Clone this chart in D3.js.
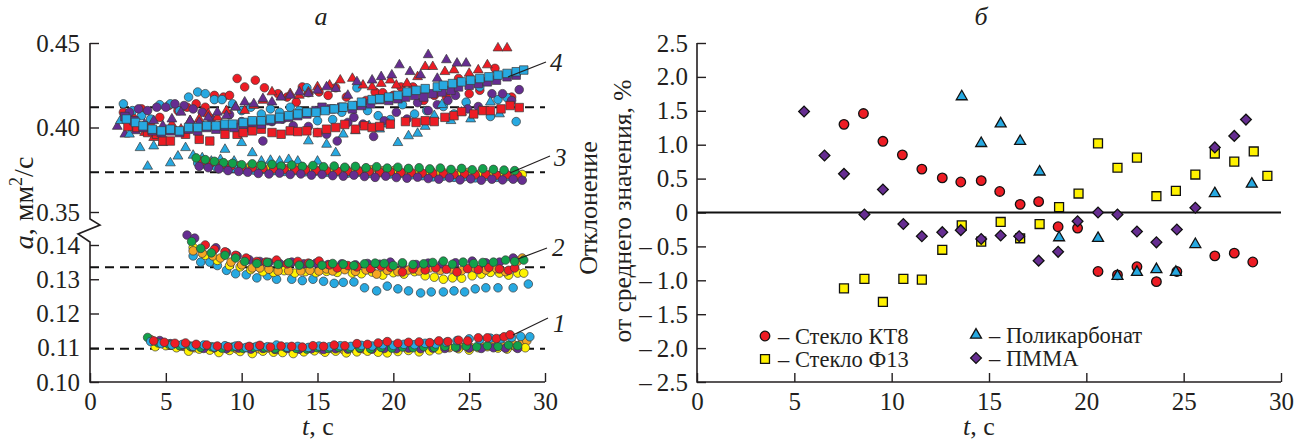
<!DOCTYPE html>
<html>
<head>
<meta charset="utf-8">
<script src="https://cdn.jsdelivr.net/npm/d3@7"></script>
<style>
  body { margin: 0; background: #fff; }
  text { font-family: "Liberation Serif", "Times New Roman", serif; fill: #231f20; }
</style>
</head>
<body>
<svg id="chart" width="1308" height="441"></svg>
<script>
// ---------- panel a : [t, a] ----------
// curve 4 (upper band)
const g4RedCirc = [[2.2,0.409],[2.8,0.406],[3.4,0.411],[4.0,0.403],[4.6,0.406],[5.2,0.413],[5.8,0.410],[6.4,0.412],[7.0,0.414],[7.6,0.412],[8.2,0.419],[8.8,0.418],[9.2,0.419],[9.7,0.429],[10.2,0.424],[10.9,0.428],[11.5,0.4235],[12.4,0.420],[13.0,0.418],[13.6,0.415],[14.0,0.424],[14.4,0.4206],[15.1,0.421],[15.7,0.419],[16.2,0.4235],[16.9,0.418],[17.5,0.413],[18.2,0.416],[18.8,0.421],[19.3,0.4206],[20.0,0.419],[20.5,0.424],[21.3,0.424],[22.0,0.416],[22.7,0.419],[23.5,0.418],[24.3,0.429],[25.0,0.420],[25.7,0.422],[26.7,0.435],[27.8,0.418]];
const g4BlueCirc = [[2.2,0.414],[2.8,0.410],[3.4,0.407],[4.0,0.405],[4.6,0.4135],[5.3,0.414],[5.9,0.410],[6.5,0.418],[7.1,0.421],[7.6,0.420],[8.2,0.4165],[8.7,0.4165],[9.4,0.414],[10.0,0.410],[10.6,0.412],[11.3,0.408],[11.9,0.411],[12.5,0.409],[13.2,0.412],[13.8,0.410],[14.3,0.4235],[15.0,0.404],[16.0,0.4047],[16.6,0.409],[17.6,0.4235],[18.3,0.410],[19.0,0.407],[19.8,0.4047],[20.6,0.4135],[21.4,0.408],[22.2,0.410],[23.3,0.4124],[24.0,0.408],[24.8,0.415],[25.7,0.424],[26.4,0.4065],[26.9,0.4165],[27.5,0.4176],[28.1,0.4035]];
const g4PurpleCirc = [[2.6,0.409],[3.2,0.411],[3.8,0.410],[4.4,0.412],[5.0,0.412],[5.6,0.414],[6.2,0.413],[6.8,0.411],[7.4,0.409],[8.0,0.405],[8.6,0.401],[9.2,0.4076],[10.0,0.4035],[10.6,0.399],[11.4,0.392],[12.0,0.4035],[12.7,0.405],[13.4,0.401],[14.4,0.4006],[15.0,0.397],[15.6,0.396],[16.3,0.392],[17.0,0.403],[17.4,0.406],[18.0,0.402],[18.7,0.3947],[19.4,0.404],[20.2,0.409],[20.9,0.405],[21.6,0.4147],[22.3,0.410],[22.9,0.4135],[23.6,0.416],[24.1,0.419],[24.9,0.411],[25.6,0.4124],[26.5,0.420],[27.2,0.420],[27.8,0.416],[28.3,0.4224]];
const g4RedTri = [[3.0,0.400],[3.6,0.397],[4.2,0.394],[4.8,0.398],[5.4,0.402],[6.0,0.399],[6.6,0.404],[7.2,0.405],[7.8,0.408],[8.4,0.406],[9.0,0.410],[9.6,0.412],[10.2,0.410],[10.8,0.413],[11.4,0.416],[12.0,0.421],[12.6,0.418],[13.2,0.420],[13.8,0.419],[14.4,0.421],[15.0,0.424],[15.8,0.425],[16.5,0.428],[17.3,0.429],[18.0,0.425],[18.6,0.424],[19.2,0.426],[19.8,0.428],[20.2,0.425],[20.9,0.426],[21.6,0.430],[22.1,0.436],[22.6,0.436],[23.4,0.433],[24.0,0.434],[25.0,0.432],[25.6,0.434],[26.2,0.437],[26.9,0.447],[27.5,0.447]];
const g4PurpleTri = [[1.8,0.4006],[2.3,0.396],[3.0,0.398],[3.6,0.402],[4.2,0.404],[4.8,0.401],[5.4,0.405],[6.0,0.409],[6.6,0.404],[7.2,0.403],[7.8,0.406],[8.4,0.409],[9.0,0.407],[9.6,0.412],[10.2,0.415],[10.8,0.414],[11.4,0.417],[12.0,0.415],[12.6,0.418],[13.2,0.419],[13.8,0.421],[14.4,0.420],[15.0,0.422],[15.6,0.424],[16.2,0.423],[17.0,0.419],[17.6,0.427],[18.6,0.428],[19.2,0.430],[19.9,0.431],[20.4,0.437],[21.1,0.433],[21.8,0.431],[22.3,0.443],[22.9,0.429],[23.5,0.440],[24.2,0.438],[24.8,0.438]];
const g4BlueTri = [[2.0,0.404],[2.6,0.396],[3.3,0.388],[3.8,0.377],[4.2,0.389],[4.8,0.391],[5.3,0.379],[5.8,0.383],[6.3,0.388],[6.8,0.3835],[7.4,0.382],[8.0,0.380],[8.6,0.381],[8.9,0.387],[9.5,0.380],[10.0,0.391],[10.7,0.385],[11.3,0.380],[11.9,0.3805],[12.5,0.380],[13.1,0.381],[13.7,0.380],[14.4,0.392],[15.0,0.380],[15.6,0.390],[16.2,0.385],[16.7,0.396],[17.5,0.398],[18.4,0.401],[19.1,0.399],[19.7,0.402],[20.3,0.391],[21.0,0.395],[21.6,0.3965],[22.1,0.4006],[22.7,0.407],[23.2,0.4135],[23.8,0.404],[24.5,0.409],[25.1,0.405],[25.7,0.410],[26.4,0.415],[27.0,0.408]];
const g4RedSq = [[2.5,0.4006],[3.1,0.400],[3.8,0.397],[4.4,0.396],[4.8,0.392],[5.3,0.392],[6.3,0.396],[7.2,0.393],[7.9,0.392],[8.9,0.396],[9.7,0.396],[10.1,0.397],[10.7,0.398],[11.3,0.399],[12.0,0.397],[12.6,0.396],[13.2,0.398],[13.7,0.3976],[14.3,0.398],[15.0,0.397],[15.6,0.399],[16.2,0.400],[16.8,0.4018],[17.5,0.399],[18.1,0.401],[18.6,0.400],[19.1,0.4006],[19.8,0.402],[20.8,0.4035],[21.5,0.403],[22.1,0.404],[22.7,0.4035],[23.4,0.406],[24.0,0.407],[24.5,0.4094],[25.3,0.408],[25.9,0.410],[26.4,0.410],[27.1,0.411],[27.7,0.413],[28.3,0.4118]];
const g4PurpleSq = [[2.3,0.4065],[2.9,0.404],[3.5,0.400],[4.1,0.398],[4.7,0.397],[5.3,0.398],[5.9,0.397],[6.5,0.399],[7.1,0.398],[7.7,0.400],[8.3,0.399],[8.9,0.401],[9.5,0.400],[10.1,0.402],[10.7,0.403],[11.3,0.402],[11.9,0.404],[12.5,0.405],[13.1,0.406],[13.7,0.407],[14.3,0.408],[14.9,0.410],[15.3,0.412],[15.9,0.411],[16.6,0.412],[17.3,0.411],[17.9,0.413],[18.5,0.414],[19.1,0.4165],[19.7,0.416],[20.3,0.417],[20.8,0.418],[21.4,0.419],[22.0,0.418],[22.6,0.420],[23.2,0.421],[23.8,0.422],[24.3,0.424],[25.0,0.425],[25.6,0.426],[26.2,0.427],[26.8,0.428],[27.5,0.430],[28.1,0.431]];
const g4BlueSq = [[2.4,0.405],[3.0,0.403],[3.5,0.401],[4.1,0.399],[4.7,0.398],[5.3,0.399],[5.9,0.398],[6.5,0.400],[7.1,0.400],[7.7,0.401],[8.3,0.401],[8.9,0.402],[9.4,0.402],[10.1,0.403],[10.7,0.404],[11.3,0.404],[11.9,0.405],[12.5,0.406],[13.1,0.407],[13.7,0.408],[14.3,0.409],[14.9,0.409],[15.5,0.410],[16.1,0.411],[16.7,0.412],[17.3,0.413],[17.9,0.415],[18.6,0.4165],[19.1,0.417],[19.7,0.418],[20.3,0.419],[20.9,0.421],[21.5,0.422],[22.1,0.423],[22.9,0.424],[23.3,0.425],[23.9,0.426],[24.5,0.427],[25.1,0.428],[25.7,0.429],[26.3,0.430],[26.9,0.431],[27.5,0.432],[28.1,0.433],[28.6,0.434]];

// curve 3
const g3Orange = [[7.5,0.3795],[8.3,0.3785],[9.0,0.3775],[9.8,0.3770],[10.5,0.3766],[11.3,0.3760],[12.1,0.3764],[12.9,0.3756],[13.7,0.3760],[14.5,0.3752],[15.3,0.3756],[16.1,0.3748],[16.9,0.3752],[17.7,0.3745],[18.5,0.3750],[19.3,0.3744],[20.1,0.3748],[20.9,0.3740],[21.7,0.3736],[22.5,0.3742],[23.3,0.3733],[24.1,0.3728],[24.9,0.3734],[25.7,0.3726],[26.5,0.3730],[27.3,0.3722],[28.1,0.3726]];
const g3Yellow = [[7.3,0.3805],[7.9,0.3795],[8.6,0.3785],[9.2,0.3778],[9.9,0.3775],[10.6,0.3768],[11.2,0.3772],[11.9,0.3764],[12.6,0.3768],[13.3,0.3760],[14.0,0.3765],[14.7,0.3758],[15.4,0.3762],[16.1,0.3755],[16.8,0.3760],[17.5,0.3752],[18.2,0.3758],[18.9,0.3760],[19.6,0.3755],[20.3,0.3748],[21.0,0.3752],[21.7,0.3745],[22.4,0.3740],[23.1,0.3735],[23.8,0.3738],[24.5,0.3730],[25.2,0.3735],[25.9,0.3728],[26.6,0.3732],[27.3,0.3725],[28.0,0.3730],[28.5,0.3722]];
const g3Blue = [[7.1,0.3790],[7.7,0.3775],[8.3,0.3768],[8.9,0.3762],[9.5,0.3758],[10.1,0.3752],[10.8,0.3748],[11.4,0.3752],[12.1,0.3745],[12.8,0.3740],[13.5,0.3745],[14.2,0.3738],[14.9,0.3742],[15.6,0.3735],[16.3,0.3738],[17.0,0.3730],[17.7,0.3735],[18.4,0.3728],[19.1,0.3732],[19.8,0.3725],[20.5,0.3728],[21.2,0.3720],[21.9,0.3715],[22.6,0.3708],[23.3,0.3712],[24.0,0.3705],[24.7,0.3710],[25.4,0.3702],[26.1,0.3712],[26.8,0.3705],[27.5,0.3710],[28.2,0.3708]];
const g3Purple = [[7.2,0.3770],[7.8,0.3762],[8.5,0.3755],[9.1,0.3745],[9.8,0.3740],[10.4,0.3735],[11.1,0.3728],[11.8,0.3725],[12.5,0.3730],[13.2,0.3722],[13.9,0.3725],[14.6,0.3718],[15.3,0.3722],[16.0,0.3715],[16.7,0.3712],[17.4,0.3718],[18.1,0.3710],[18.8,0.3705],[19.5,0.3712],[20.2,0.3704],[20.9,0.3700],[21.6,0.3706],[22.3,0.3698],[23.0,0.3694],[23.7,0.3702],[24.4,0.3690],[25.1,0.3696],[25.8,0.3688],[26.5,0.3694],[27.2,0.3690],[27.9,0.3694],[28.5,0.3688]];
const g3Red = [[7.4,0.3800],[8.0,0.3790],[8.7,0.3780],[9.3,0.3772],[10.0,0.3765],[10.7,0.3762],[11.4,0.3758],[12.1,0.3755],[12.8,0.3752],[13.5,0.3750],[14.2,0.3748],[14.9,0.3746],[15.6,0.3744],[16.3,0.3742],[17.0,0.3740],[17.7,0.3742],[18.4,0.3738],[19.1,0.3736],[19.8,0.3738],[20.5,0.3734],[21.2,0.3732],[21.9,0.3730],[22.6,0.3728],[23.3,0.3726],[24.0,0.3722],[24.7,0.3725],[25.4,0.3720],[26.1,0.3722],[26.8,0.3718],[27.5,0.3720],[28.2,0.3716]];
const g3Green = [[7.0,0.3820],[7.6,0.3810],[8.2,0.3800],[8.8,0.3792],[9.4,0.3788],[10.0,0.3780],[10.7,0.3785],[11.3,0.3776],[12.0,0.3782],[12.6,0.3772],[13.3,0.3778],[14.0,0.3770],[14.7,0.3775],[15.4,0.3768],[16.1,0.3772],[16.8,0.3765],[17.5,0.3770],[18.2,0.3762],[18.9,0.3768],[19.6,0.3760],[20.3,0.3765],[21.0,0.3758],[21.7,0.3762],[22.4,0.3755],[23.1,0.3760],[23.8,0.3752],[24.5,0.3758],[25.2,0.3750],[25.9,0.3756],[26.6,0.3752],[27.3,0.3748],[28.0,0.3745]];

// curve 2
const g2Blue = [[6.8,0.1368],[7.3,0.1350],[7.9,0.1350],[8.4,0.1340],[9.0,0.1326],[9.6,0.1316],[10.3,0.1313],[11.0,0.1304],[11.7,0.1310],[12.3,0.1300],[13.3,0.1300],[14.0,0.1296],[14.7,0.1300],[15.4,0.1294],[16.1,0.1288],[16.7,0.1291],[17.4,0.1292],[18.1,0.1275],[18.9,0.1266],[19.6,0.1280],[20.3,0.1272],[21.0,0.1266],[21.8,0.1260],[22.5,0.1263],[23.3,0.1263],[24.0,0.1266],[24.7,0.1263],[25.4,0.1272],[26.1,0.1275],[26.9,0.1275],[27.9,0.1275],[28.9,0.1286]];
const g2Yellow = [[6.8,0.1393],[7.6,0.1370],[8.4,0.1355],[9.2,0.1340],[9.9,0.1336],[10.6,0.1328],[11.4,0.1322],[12.1,0.1320],[12.8,0.1325],[13.5,0.1318],[14.2,0.1322],[14.9,0.1319],[15.6,0.1323],[16.3,0.1320],[17.3,0.1318],[17.9,0.1316],[18.6,0.1321],[19.3,0.1312],[20.0,0.1319],[20.7,0.1315],[21.4,0.1322],[22.1,0.1310],[22.7,0.1306],[23.3,0.1300],[23.9,0.1304],[24.5,0.1303],[25.2,0.1310],[25.8,0.1315],[26.4,0.1320],[27.0,0.1318],[27.6,0.1312],[28.2,0.1318],[28.6,0.1318]];
const g2Orange = [[6.8,0.1383],[7.4,0.1376],[8.1,0.1368],[8.6,0.1362],[9.3,0.1350],[10.0,0.1342],[10.7,0.1333],[11.2,0.1333],[11.8,0.1329],[12.4,0.1324],[13.1,0.1325],[13.9,0.1324],[14.5,0.1326],[15.1,0.1324],[15.6,0.1330],[16.0,0.1324],[16.8,0.1328],[17.5,0.1323],[18.2,0.1327],[18.9,0.1315],[19.6,0.1326],[20.3,0.1322],[21.0,0.1327],[21.7,0.1324],[22.4,0.1333],[23.1,0.1326],[23.8,0.1330],[24.5,0.1325],[25.4,0.1333],[26.1,0.1327],[26.8,0.1331],[27.4,0.1322],[28.2,0.1353],[28.5,0.1362]];
const g2Purple = [[6.4,0.1429],[6.9,0.1420],[8.3,0.1392],[9.0,0.1378],[9.7,0.1368],[10.5,0.1357],[11.2,0.1352],[11.8,0.1349],[12.5,0.1346],[13.3,0.1350],[14.1,0.1345],[14.9,0.1347],[15.7,0.1343],[16.6,0.1345],[17.5,0.1342],[18.3,0.1346],[19.1,0.1344],[19.8,0.1350],[20.6,0.1345],[21.5,0.1343],[22.3,0.1347],[23.2,0.1345],[24.1,0.1348],[25.2,0.1353],[26.1,0.1348],[27.0,0.1350],[27.9,0.1362]];
const g2Red = [[7.6,0.1400],[8.2,0.1387],[8.9,0.1380],[9.6,0.1370],[10.3,0.1362],[11.0,0.1352],[11.6,0.1350],[12.3,0.1356],[13.0,0.1345],[13.7,0.1352],[14.4,0.1347],[15.1,0.1353],[15.8,0.1342],[16.3,0.1333],[17.0,0.1340],[17.6,0.1336],[18.5,0.1331],[19.2,0.1338],[19.8,0.1335],[20.6,0.1321],[21.3,0.1330],[22.1,0.1327],[22.8,0.1333],[23.5,0.1329],[24.2,0.1321],[24.9,0.1331],[25.6,0.1328],[26.3,0.1334],[27.0,0.1330],[27.6,0.1326],[28.0,0.1333]];
const g2Green = [[6.7,0.1410],[7.3,0.1390],[8.0,0.1377],[8.9,0.1370],[9.6,0.1362],[10.2,0.1352],[11.0,0.1346],[11.7,0.1349],[12.4,0.1343],[13.1,0.1348],[13.8,0.1341],[14.5,0.1345],[15.3,0.1341],[16.0,0.1346],[16.7,0.1344],[17.4,0.1340],[18.1,0.1345],[18.8,0.1347],[19.4,0.1346],[20.0,0.1340],[20.6,0.1348],[21.3,0.1343],[22.0,0.1345],[22.6,0.1349],[23.3,0.1353],[23.9,0.1344],[24.6,0.1350],[25.3,0.1346],[25.9,0.1349],[26.6,0.1350],[27.4,0.1356],[28.0,0.1352],[28.6,0.1356]];

// curve 1
const g1Purple = [[4.6,0.1121],[5.3,0.1112],[6.0,0.1105],[6.7,0.1102],[7.5,0.1098],[8.2,0.1100],[9.0,0.1097],[9.8,0.1099],[10.6,0.1096],[11.4,0.1098],[12.2,0.1095],[13.0,0.1098],[13.8,0.1096],[14.6,0.1097],[15.4,0.1095],[16.2,0.1097],[17.0,0.1096],[17.8,0.1098],[18.6,0.1096],[19.4,0.1098],[20.2,0.1097],[21.0,0.1099],[21.8,0.1097],[22.6,0.1099],[23.4,0.1098],[24.2,0.1100],[25.0,0.1099],[25.8,0.1098],[26.6,0.1100],[27.4,0.1099],[28.2,0.1098]];
const g1Blue = [[4.0,0.1118],[4.7,0.1112],[5.4,0.1108],[6.1,0.1110],[6.8,0.1104],[7.5,0.1108],[8.2,0.1102],[8.9,0.1106],[9.6,0.1105],[10.3,0.1101],[11.0,0.1104],[11.7,0.1103],[12.3,0.1108],[13.0,0.1102],[13.7,0.1104],[14.4,0.1101],[15.1,0.1105],[15.8,0.1103],[16.5,0.1106],[17.2,0.1104],[17.9,0.1107],[18.6,0.1105],[19.3,0.1109],[20.0,0.1107],[20.7,0.1110],[21.4,0.1109],[22.1,0.1113],[22.8,0.1111],[23.5,0.1116],[24.2,0.1121],[25.0,0.1126],[25.7,0.1124],[26.4,0.1128],[27.1,0.1126],[27.8,0.1130],[28.4,0.1133],[29.0,0.1132]];
const g1Green = [[3.8,0.1130],[4.5,0.1114],[5.2,0.1110],[5.9,0.1106],[6.6,0.1105],[7.3,0.1101],[8.0,0.1103],[8.7,0.1099],[9.4,0.1102],[10.1,0.1098],[10.8,0.1101],[11.5,0.1100],[12.2,0.1097],[12.9,0.1101],[13.6,0.1098],[14.3,0.1096],[15.0,0.1100],[15.7,0.1098],[16.4,0.1101],[17.1,0.1099],[17.8,0.1100],[18.5,0.1097],[19.2,0.1101],[19.9,0.1099],[20.6,0.1102],[21.3,0.1100],[22.0,0.1103],[22.7,0.1101],[23.4,0.1104],[24.1,0.1102],[24.8,0.1105],[25.5,0.1103],[26.2,0.1106],[26.9,0.1104],[27.6,0.1108],[28.2,0.1106]];
const g1Red = [[4.2,0.1120],[4.9,0.1116],[5.6,0.1113],[6.3,0.1114],[7.0,0.1110],[7.7,0.1108],[8.4,0.1105],[9.1,0.1103],[9.8,0.1106],[10.5,0.1104],[11.2,0.1107],[11.9,0.1102],[12.6,0.1105],[13.3,0.1104],[14.0,0.1102],[14.7,0.1106],[15.4,0.1104],[16.1,0.1108],[16.8,0.1106],[17.6,0.1112],[18.3,0.1110],[19.0,0.1114],[19.6,0.1118],[20.3,0.1113],[21.0,0.1116],[21.7,0.1117],[22.4,0.1115],[23.0,0.1120],[23.6,0.1118],[24.3,0.1122],[24.9,0.1120],[25.6,0.1129],[26.2,0.1129],[26.8,0.1127],[27.3,0.1132],[27.7,0.1138]];
const g1Orange = [[4.0,0.1124],[4.8,0.1112],[5.5,0.1109],[6.2,0.1104],[6.9,0.1100],[7.6,0.1102],[8.3,0.1098],[9.0,0.1099],[9.7,0.1096],[10.4,0.1100],[11.1,0.1097],[11.8,0.1099],[12.5,0.1095],[13.2,0.1098],[13.9,0.1096],[14.6,0.1099],[15.3,0.1094],[16.0,0.1097],[16.7,0.1095],[17.4,0.1098],[18.1,0.1096],[18.8,0.1099],[19.5,0.1097],[20.2,0.1100],[20.9,0.1098],[21.6,0.1101],[22.3,0.1099],[23.0,0.1102],[23.7,0.1100],[24.4,0.1103],[25.1,0.1101],[25.8,0.1104],[26.5,0.1106],[27.2,0.1104],[27.9,0.1110],[28.5,0.1116],[28.8,0.1120]];
const g1Yellow = [[4.3,0.1103],[5.0,0.1106],[5.7,0.1100],[6.5,0.1090],[7.2,0.1096],[7.9,0.1093],[8.5,0.1086],[9.2,0.1092],[9.9,0.1089],[10.7,0.1083],[11.4,0.1090],[12.1,0.1087],[12.7,0.1086],[13.4,0.1083],[14.1,0.1088],[14.8,0.1091],[15.5,0.1087],[16.2,0.1090],[16.9,0.1085],[17.6,0.1088],[18.3,0.1090],[19.0,0.1087],[19.6,0.1085],[20.3,0.1089],[21.0,0.1092],[21.7,0.1088],[22.4,0.1091],[23.0,0.1094],[23.6,0.1103],[24.3,0.1097],[25.0,0.1093],[25.6,0.1100],[26.2,0.1103],[26.9,0.1099],[27.5,0.1096],[28.1,0.1101],[28.7,0.1100]];

// mean values (dashed lines) and curve labels
const meanUpper = [0.412, 0.3735];
const meanLower = [0.1335, 0.1097];
const curveLabels = ["1", "2", "3", "4"];

// ---------- panel б : deviation, % ----------
const tKT8 = [7.55,8.55,9.55,10.55,11.55,12.6,13.55,14.6,15.55,16.6,17.55,18.55,19.55,20.6,21.6,22.6,23.6,24.65,26.6,27.6,28.55];
const devKT8 = [1.30,1.46,1.05,0.85,0.64,0.51,0.45,0.47,0.31,0.12,0.16,-0.21,-0.23,-0.87,-0.92,-0.80,-1.02,-0.87,-0.64,-0.60,-0.73];
const tF13 = [7.55,8.6,9.55,10.6,11.55,12.6,13.6,14.6,15.6,16.6,17.6,18.6,19.6,20.6,21.6,22.6,23.6,24.6,25.6,26.6,27.6,28.6,29.3];
const devF13 = [-1.12,-0.98,-1.32,-0.98,-0.99,-0.55,-0.19,-0.43,-0.14,-0.38,-0.17,0.08,0.28,1.02,0.66,0.81,0.24,0.32,0.56,0.87,0.75,0.90,0.54];
const tPC = [13.6,14.6,15.6,16.6,17.6,18.6,20.6,21.6,22.6,23.6,24.6,25.6,26.6,28.5];
const devPC = [1.71,1.02,1.31,1.05,0.60,-0.37,-0.38,-0.94,-0.88,-0.84,-0.88,-0.47,0.28,0.42];
const tPMMA = [5.5,6.55,7.55,8.6,9.55,10.6,11.55,12.6,13.55,14.6,15.6,16.55,17.55,18.55,19.55,20.6,21.6,22.6,23.6,24.65,25.6,26.6,27.6,28.2];
const devPMMA = [1.49,0.84,0.57,-0.03,0.34,-0.17,-0.35,-0.29,-0.26,-0.39,-0.34,-0.35,-0.71,-0.58,-0.13,0.0,-0.03,-0.28,-0.44,-0.25,0.07,0.96,1.13,1.37];
const legendNames = ["Стекло КТ8", "Стекло Ф13", "Поликарбонат", "ПММА"];

// ---------- drawing ----------
const C = {red: "#ed1c24", blue: "#27a9e1", purple: "#662d91", green: "#12a14b", orange: "#f5a623", yellow: "#fff200"};
const svg = d3.select("#chart");

const xA = d3.scaleLinear().domain([0, 30]).range([90, 545]);
const yUp = d3.scaleLinear().domain([0.35, 0.45]).range([212, 43]);
const yLo = d3.scaleLinear().domain([0.10, 0.14]).range([382, 245]);
const xB = d3.scaleLinear().domain([0, 30]).range([697, 1281]);
const yB = d3.scaleLinear().domain([-2.5, 2.5]).range([382, 43]);

function styleAxis(g) {
  g.selectAll("path.domain").remove();
  g.selectAll(".tick line").attr("stroke", "#231f20").attr("stroke-width", 1.4);
  g.selectAll(".tick text").attr("font-size", 25).attr("fill", "#231f20")
    .attr("font-family", "Liberation Serif, serif");
}

// panel a axes
svg.append("g").attr("transform", "translate(90,0)")
  .call(d3.axisLeft(yUp).tickValues([0.35, 0.40, 0.45]).tickFormat(d3.format(".2f")).tickSizeInner(-9).tickSizeOuter(0).tickPadding(10))
  .call(styleAxis);
svg.append("g").attr("transform", "translate(90,0)")
  .call(d3.axisLeft(yLo).tickValues([0.10, 0.11, 0.12, 0.13, 0.14]).tickFormat(d3.format(".2f")).tickSizeInner(-9).tickSizeOuter(0).tickPadding(10))
  .call(styleAxis);
svg.append("g").attr("transform", "translate(0,382)")
  .call(d3.axisBottom(xA).tickValues([0, 5, 10, 15, 20, 25, 30]).tickSizeInner(-9).tickSizeOuter(0).tickPadding(10))
  .call(styleAxis);
// y axis with break
svg.append("path")
  .attr("d", `M90,${yUp(0.45)}V219L100,225L78,234L90,242V382H545`)
  .attr("fill", "none").attr("stroke", "#231f20").attr("stroke-width", 1.6);

// dashed mean lines
meanUpper.forEach(v => svg.append("line").attr("x1", xA(0)).attr("x2", xA(30)).attr("y1", yUp(v)).attr("y2", yUp(v))
  .attr("stroke", "#111").attr("stroke-width", 2).attr("stroke-dasharray", "9,6"));
meanLower.forEach(v => svg.append("line").attr("x1", xA(0)).attr("x2", xA(30)).attr("y1", yLo(v)).attr("y2", yLo(v))
  .attr("stroke", "#111").attr("stroke-width", 2).attr("stroke-dasharray", "9,6"));

const symCircle = d3.symbol().type(d3.symbolCircle).size(58)();
const symSquare = d3.symbol().type(d3.symbolSquare).size(72)();
const symTri = d3.symbol().type(d3.symbolTriangle).size(42)();

const seriesA = [
  [g1Orange, C.orange, symCircle, yLo], [g1Yellow, C.yellow, symCircle, yLo], [g1Purple, C.purple, symCircle, yLo],
  [g1Green, C.green, symCircle, yLo], [g1Blue, C.blue, symCircle, yLo], [g1Red, C.red, symCircle, yLo],
  [g2Blue, C.blue, symCircle, yLo], [g2Yellow, C.yellow, symCircle, yLo], [g2Orange, C.orange, symCircle, yLo],
  [g2Purple, C.purple, symCircle, yLo], [g2Red, C.red, symCircle, yLo], [g2Green, C.green, symCircle, yLo],
  [g4RedCirc, C.red, symCircle, yUp], [g4BlueCirc, C.blue, symCircle, yUp], [g4PurpleCirc, C.purple, symCircle, yUp],
  [g4RedTri, C.red, symTri, yUp], [g4PurpleTri, C.purple, symTri, yUp], [g4BlueTri, C.blue, symTri, yUp],
  [g4RedSq, C.red, symSquare, yUp], [g4PurpleSq, C.purple, symSquare, yUp], [g4BlueSq, C.blue, symSquare, yUp],
  [g3Orange, C.orange, symCircle, yUp], [g3Yellow, C.yellow, symCircle, yUp], [g3Blue, C.blue, symCircle, yUp],
  [g3Red, C.red, symCircle, yUp], [g3Green, C.green, symCircle, yUp], [g3Purple, C.purple, symCircle, yUp]
];
seriesA.forEach(([pts, color, sym, y]) => {
  svg.append("g").selectAll("path").data(pts).join("path")
    .attr("d", sym)
    .attr("transform", d => `translate(${xA(d[0])},${y(d[1])})`)
    .attr("fill", color).attr("stroke", "#3a3a3a").attr("stroke-width", 0.7);
});

// curve labels with leader lines
const labelPos = [
  {x1: 513, y1: 335, x2: 548, y2: 318, tx: 553, ty: 332},
  {x1: 518, y1: 259, x2: 547, y2: 248, tx: 552, ty: 256},
  {x1: 510, y1: 173, x2: 550, y2: 156, tx: 554, ty: 166},
  {x1: 508, y1: 77, x2: 546, y2: 62, tx: 550, ty: 71}
];
curveLabels.forEach((lab, i) => {
  const p = labelPos[i];
  svg.append("line").attr("x1", p.x1).attr("y1", p.y1).attr("x2", p.x2).attr("y2", p.y2)
    .attr("stroke", "#231f20").attr("stroke-width", 1.2);
  svg.append("text").attr("x", p.tx).attr("y", p.ty).attr("font-size", 25).attr("font-style", "italic").text(lab);
});

// titles and axis labels, panel a
svg.append("text").attr("x", 321).attr("y", 25).attr("font-size", 26).attr("font-style", "italic").attr("text-anchor", "middle").text("а");
svg.append("text").attr("x", 318).attr("y", 435).attr("font-size", 26).attr("text-anchor", "middle")
  .html('<tspan font-style="italic">t</tspan>, с');
const ylab = svg.append("text").attr("transform", "translate(33,203) rotate(-90)").attr("font-size", 28).attr("text-anchor", "middle");
ylab.append("tspan").attr("font-style", "italic").text("a");
ylab.append("tspan").text(", мм");
ylab.append("tspan").attr("font-size", 18).attr("dy", -11).text("2");
ylab.append("tspan").attr("dy", 11).text("/с");

// panel б axes
svg.append("g").attr("transform", "translate(697,0)")
  .call(d3.axisLeft(yB).tickValues([-2.5, -2, -1.5, -1, -0.5, 0, 0.5, 1, 1.5, 2, 2.5])
    .tickFormat(d => d === 0 ? "0" : d3.format(".1f")(d).replace("−", "–\u2009")).tickSizeInner(-9).tickSizeOuter(0).tickPadding(9))
  .call(styleAxis);
svg.append("g").attr("transform", "translate(0,382)")
  .call(d3.axisBottom(xB).tickValues([0, 5, 10, 15, 20, 25, 30]).tickSizeInner(-9).tickSizeOuter(0).tickPadding(10))
  .call(styleAxis);
svg.append("path").attr("d", `M697,${yB(2.5)}V382H1281`).attr("fill", "none").attr("stroke", "#231f20").attr("stroke-width", 1.6);
svg.append("line").attr("x1", xB(0)).attr("x2", xB(30)).attr("y1", yB(0)).attr("y2", yB(0))
  .attr("stroke", "#111").attr("stroke-width", 2.2);

const symB = [
  d3.symbol().type(d3.symbolCircle).size(72)(),
  d3.symbol().type(d3.symbolSquare).size(80)(),
  d3.symbol().type(d3.symbolTriangle).size(52)(),
  d3.symbol().type(d3.symbolSquare).size(58)()
];
const fillB = [C.red, C.yellow, C.blue, C.purple];
const rotB = [0, 0, 0, 45];
const seriesB = [[tKT8, devKT8], [tF13, devF13], [tPC, devPC], [tPMMA, devPMMA]];
seriesB.forEach(([ts, vs], i) => {
  svg.append("g").selectAll("path").data(ts.map((t, k) => [t, vs[k]])).join("path")
    .attr("d", symB[i])
    .attr("transform", d => `translate(${xB(d[0])},${yB(d[1])}) rotate(${rotB[i]})`)
    .attr("fill", fillB[i]).attr("stroke", "#111").attr("stroke-width", 1.3);
});

// legend
const legPos = [[765, 336], [765, 359], [976, 335], [976, 358]];
legendNames.forEach((name, i) => {
  const [lx, ly] = legPos[i];
  svg.append("path").attr("d", symB[i]).attr("transform", `translate(${lx},${ly}) rotate(${rotB[i]})`)
    .attr("fill", fillB[i]).attr("stroke", "#111").attr("stroke-width", 1.3);
  svg.append("text").attr("x", lx + 13).attr("y", ly + 8).attr("font-size", 22.5).text("– " + name);
});

// titles and axis labels, panel б
svg.append("text").attr("x", 981).attr("y", 25).attr("font-size", 26).attr("font-style", "italic").attr("text-anchor", "middle").text("б");
svg.append("text").attr("x", 979).attr("y", 435).attr("font-size", 26).attr("text-anchor", "middle")
  .html('<tspan font-style="italic">t</tspan>, с');
svg.append("text").attr("transform", "translate(597,208) rotate(-90)").attr("font-size", 26).attr("text-anchor", "middle").text("Отклонение");
svg.append("text").attr("transform", "translate(631,211) rotate(-90)").attr("font-size", 25.5).attr("text-anchor", "middle").text("от среднего значения, %");
</script>
</body>
</html>
